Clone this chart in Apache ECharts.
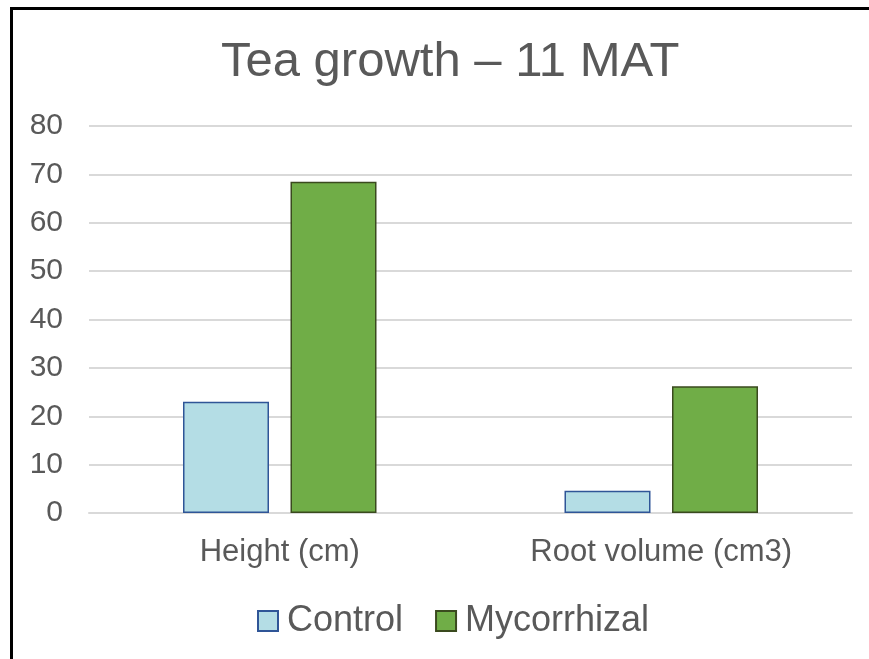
<!DOCTYPE html>
<html>
<head>
<meta charset="utf-8">
<script src="https://cdn.jsdelivr.net/npm/echarts@6/dist/echarts.min.js"></script>
<style>
  html, body { margin: 0; padding: 0; background: #fff; }
  #chart { position: absolute; left: 0; top: 0; width: 869px; height: 659px; }
  #frame {
    position: absolute; left: 10px; top: 7px; width: 870px; height: 660px;
    border-top: 3px solid #000; border-left: 3px solid #000; pointer-events: none;
  }
</style>
</head>
<body>
<div id="chart"></div>
<div id="frame"></div>
<script>
const categories = ["Height (cm)", "Root volume (cm3)"];
const control = [23, 4.6];
const mycorrhizal = [68.5, 26.2];
const yTicks = [0, 10, 20, 30, 40, 50, 60, 70, 80];

const textColor = "#595959";
const font = "'Liberation Sans', Arial, sans-serif";

const chart = echarts.init(document.getElementById("chart"));
chart.setOption({
  backgroundColor: "#FFFFFF",
  animation: false,
  title: {
    text: "Tea growth \u2013 11 MAT",
    left: 216,
    top: 33,
    textStyle: { fontFamily: font, fontSize: 49, fontWeight: "normal", color: textColor }
  },
  legend: {
    data: ["Control", "Mycorrhizal"],
    left: 252,
    top: 598,
    icon: "rect",
    itemWidth: 20,
    itemHeight: 20,
    itemGap: 32,
    textStyle: { fontFamily: font, fontSize: 36, color: textColor, padding: [0, 0, 0, 4] }
  },
  grid: { left: 89, right: 17, top: 126, bottom: 146 },
  xAxis: {
    type: "category",
    data: categories,
    axisLine: { lineStyle: { color: "#D9D9D9", width: 2 } },
    axisTick: { show: false },
    axisLabel: { fontFamily: font, fontSize: 31, color: textColor, margin: 24 }
  },
  yAxis: {
    type: "value",
    min: yTicks[0],
    max: yTicks[yTicks.length - 1],
    interval: 10,
    axisLine: { show: false },
    axisTick: { show: false },
    splitLine: { lineStyle: { color: "#D9D9D9", width: 2 } },
    axisLabel: { fontFamily: font, fontSize: 30, color: textColor, margin: 26 }
  },
  series: [
    {
      name: "Control",
      type: "bar",
      data: control,
      barWidth: 86,
      barGap: "25%",
      itemStyle: { color: "#B4DDE5", borderColor: "#2F5597", borderWidth: 1.5 }
    },
    {
      name: "Mycorrhizal",
      type: "bar",
      data: mycorrhizal,
      barWidth: 86,
      itemStyle: { color: "#70AD47", borderColor: "#3A4A1E", borderWidth: 1.5 }
    }
  ]
});
</script>
</body>
</html>
